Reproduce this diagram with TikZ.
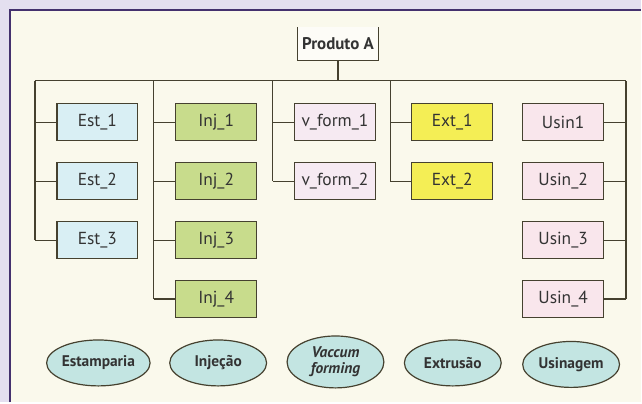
\documentclass[tikz,border=0pt]{standalone}
\usepackage{fontspec}
\setmainfont{PT Sans}
\usetikzlibrary{shapes.geometric}

\definecolor{pagebg}{HTML}{FAF9EC}
\definecolor{outerbg}{HTML}{E4DFF0}
\definecolor{framecol}{HTML}{44316E}
\definecolor{linecol}{HTML}{45412F}
\definecolor{textcol}{HTML}{333333}
\definecolor{estfill}{HTML}{D9EFF4}
\definecolor{injfill}{HTML}{C8DC8C}
\definecolor{vffill}{HTML}{F6EAF2}
\definecolor{extfill}{HTML}{F4EE55}
\definecolor{usinfill}{HTML}{F9E6EC}
\definecolor{ellfill}{HTML}{C3E5E2}

\tikzset{
  box/.style={draw=linecol, line width=1.2bp, minimum width=81bp, minimum height=37bp,
    inner sep=0pt, text=textcol, font=\fontsize{17.5}{19}\selectfont},
  wire/.style={draw=linecol, line width=1.2bp},
  proc/.style={ellipse, draw=linecol, line width=1.2bp, fill=ellfill, minimum width=97bp,
    minimum height=46bp, inner sep=0pt, text=textcol, font=\bfseries\fontsize{15.5}{15}\selectfont},
}

\begin{document}
\begin{tikzpicture}[x=1bp, y=-1bp]
  % page background and frame
  \fill[outerbg] (0,0) rectangle (642,403);
  \fill[pagebg] (10,10) rectangle (642,403);
  \draw[framecol, line width=2bp] (10,403) -- (10,10) -- (642,10);
  \useasboundingbox (0,0) rectangle (642,403);

  % root, open at the top
  \node[fill=white, fill opacity=0.6, text opacity=1, minimum width=81bp, minimum height=33bp,
        inner sep=0pt, text=textcol, font=\bfseries\fontsize{17}{18}\selectfont]
        (root) at (338.5,44) {Produto A};
  \draw[wire] (root.north west) -- (root.south west) -- (root.south east) -- (root.north east);

  % bus and column trunks
  \coordinate (cE) at (35,81);
  \coordinate (cI) at (154,81);
  \coordinate (cV) at (273,81);
  \coordinate (cX) at (391,81);
  \coordinate (cU) at (627,81);
  \draw[wire] (cE) -- (cU);
  \draw[wire] (root.south) -- (root.south |- cE);

  % Estamparia
  \node[box, fill=estfill] (e1) at (97.5,122.5) {Est\_1};
  \node[box, fill=estfill] (e2) at (97.5,181.5) {Est\_2};
  \node[box, fill=estfill] (e3) at (97.5,240.5) {Est\_3};
  % Injecao
  \node[box, fill=injfill] (i1) at (216.5,122.5) {Inj\_1};
  \node[box, fill=injfill] (i2) at (216.5,181.5) {Inj\_2};
  \node[box, fill=injfill] (i3) at (216.5,240.5) {Inj\_3};
  \node[box, fill=injfill] (i4) at (216.5,299.5) {Inj\_4};
  % Vaccum forming
  \node[box, fill=vffill] (v1) at (335.5,122.5) {v\_form\_1};
  \node[box, fill=vffill] (v2) at (335.5,181.5) {v\_form\_2};
  % Extrusao
  \node[box, fill=extfill] (x1) at (453,122.5) {Ext\_1};
  \node[box, fill=extfill] (x2) at (453,181.5) {Ext\_2};
  % Usinagem
  \node[box, fill=usinfill] (u1) at (564,122.5) {Usin1};
  \node[box, fill=usinfill] (u2) at (564,181.5) {Usin\_2};
  \node[box, fill=usinfill] (u3) at (564,240.5) {Usin\_3};
  \node[box, fill=usinfill] (u4) at (564,299.5) {Usin\_4};

  % trunks down each column
  \draw[wire] (cE) -- (cE |- e3.west);
  \draw[wire] (cI) -- (cI |- i4.west);
  \draw[wire] (cV) -- (cV |- v2.west);
  \draw[wire] (cX) -- (cX |- x2.west);
  \draw[wire] (cU) -- (cU |- u4.east);

  % branches to boxes
  \foreach \n in {e1,e2,e3} \draw[wire] (cE |- \n.west) -- (\n.west);
  \foreach \n in {i1,i2,i3,i4} \draw[wire] (cI |- \n.west) -- (\n.west);
  \foreach \n in {v1,v2} \draw[wire] (cV |- \n.west) -- (\n.west);
  \foreach \n in {x1,x2} \draw[wire] (cX |- \n.west) -- (\n.west);
  \foreach \n in {u1,u2,u3,u4} \draw[wire] (\n.east) -- (cU |- \n.east);

  % process legend
  \node[proc] (pE) at (98.5,363.5) {Estamparia};
  \node[proc] (pI) at (218.5,363.5) {Injeção};
  \node[proc, minimum height=52bp, align=center,
        font=\bfseries\itshape\fontsize{15.5}{16}\selectfont] (pV) at (336,362.5) {Vaccum\\forming};
  \node[proc] (pX) at (453.5,363.5) {Extrusão};
  \node[proc] (pU) at (572,365) {Usinagem};
\end{tikzpicture}
\end{document}
